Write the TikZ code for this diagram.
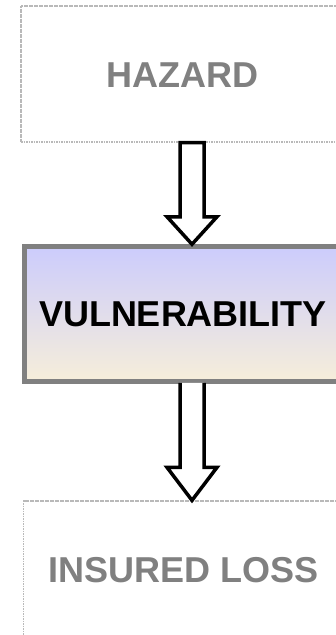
\documentclass[tikz,border=0pt]{standalone}
\usepackage{fontspec}
\setmainfont{Liberation Sans}
\usetikzlibrary{calc}
\definecolor{txtgrey}{RGB}{128,128,128}
\definecolor{dotgrey}{RGB}{185,185,185}
\definecolor{vultop}{RGB}{204,204,252}
\definecolor{vulbot}{RGB}{246,238,218}
\definecolor{vulborder}{RGB}{128,128,128}
\tikzset{
  dotbox/.style={draw=dotgrey, line width=1.3pt, dash pattern=on 1.6pt off 0.9pt, rectangle, inner sep=0pt},
  vulbox/.style={draw=vulborder, line width=4.5pt, rectangle, inner sep=0pt, top color=vultop, bottom color=vulbot},
  greytxt/.style={text=txtgrey, font=\fontsize{36}{40}\selectfont\bfseries, inner sep=0pt},
  blacktxt/.style={text=black, font=\fontsize{36}{40}\selectfont\bfseries, inner sep=0pt},
  barrow/.style={draw=black, fill=white, line width=3.5pt, line join=miter}
}
\newcommand\blockarrow[3]{%
  \draw[barrow] ($(#1)+(-12,0)$) -- ($(#2)+(-12,-#3)$) -- ($(#2)+(-25,-#3)$) -- (#2)
     -- ($(#2)+(25,-#3)$) -- ($(#2)+(12,-#3)$) -- ($(#1)+(12,0)$)}
\begin{document}
\begin{tikzpicture}[x=1pt, y=-1pt]
\clip (0,0) rectangle (336,635);
\fill[white] (0,0) rectangle (336,635);
% boxes
\node[dotbox, minimum width=323pt, minimum height=136pt] (haz) at (182.5,74) {};
\node[greytxt] (hazt) at (182.5,75.5) {HAZARD};
\coordinate (ax) at (192,0);
\node[vulbox, minimum width=316pt, minimum height=135pt] (vul) at (182.5,314) {};
\node[blacktxt] (vult) at (183,314) {VULNERABILITY};
\node[dotbox, minimum width=320pt, minimum height=138pt] (ins) at (183.5,570) {};
\node[greytxt] (inst) at (184,570) {INSURED LOSS};
% arrows
\coordinate (a1s) at (haz.south -| ax);
\coordinate (a1e) at (vul.north -| ax);
\coordinate (a2s) at ($(vul.south -| ax)+(0,-1)$);
\coordinate (a2e) at (ins.north -| ax);
\blockarrow{a1s}{a1e}{27.5} -- cycle;
\blockarrow{a2s}{a2e}{33};
\end{tikzpicture}
\end{document}
